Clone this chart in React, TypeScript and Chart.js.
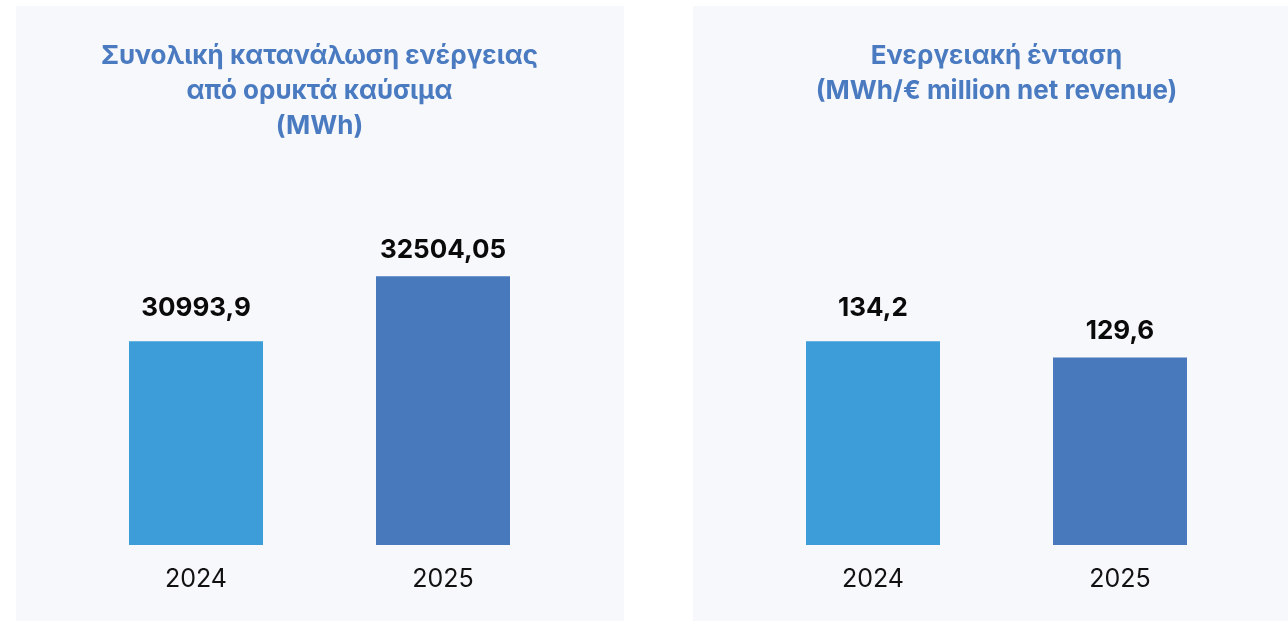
import React, { useEffect, useRef } from "react";
import { Chart, registerables } from "chart.js";

Chart.register(...registerables);

const categories = ["2024", "2025"];
const fossilValues = [30993.9, 32504.05];
const intensityValues = [134.2, 129.6];
const fossilTitle = ["Συνολική κατανάλωση ενέργειας", "από ορυκτά καύσιμα", "(MWh)"];
const intensityTitle = ["Ενεργειακή ένταση", "(MWh/€ million net revenue)"];
const barColors = ["#3d9dd8", "#4779bc"];
const labelOffsets = [25, 18];

const fmt = (v: number) => String(v).replace(".", ",");

const valueLabelPlugin = {
  id: "valueLabels",
  afterDatasetsDraw(chart: any) {
    const ctx = chart.ctx;
    ctx.save();
    ctx.font = "bold 26px Inter";
    ctx.fillStyle = "#0a0a0a";
    ctx.textAlign = "center";
    ctx.textBaseline = "alphabetic";
    chart.data.datasets.forEach((ds: any, di: number) => {
      const meta = chart.getDatasetMeta(di);
      meta.data.forEach((bar: any, i: number) => {
        ctx.fillText(fmt(ds.data[i]), bar.x, bar.y - labelOffsets[i]);
      });
    });
    ctx.restore();
  },
};

function BarPanel(props: {
  title: string[];
  titleFont: string;
  titleSize: number;
  values: number[];
  min: number;
  max: number;
  left: number;
}) {
  const ref = useRef<HTMLCanvasElement>(null);
  useEffect(() => {
    if (!ref.current) return;
    const lines = props.title.length;
    const chart = new Chart(ref.current, {
      type: "bar",
      data: {
        labels: categories,
        datasets: [
          {
            data: props.values,
            backgroundColor: barColors,
            borderWidth: 0,
            barPercentage: 0.5425,
            categoryPercentage: 1,
          },
        ],
      },
      options: {
        animation: false,
        responsive: true,
        maintainAspectRatio: false,
        layout: { padding: { left: 56.5, right: 57.5, top: 0, bottom: 7.1 } },
        plugins: {
          legend: { display: false },
          tooltip: { enabled: false },
          title: {
            display: true,
            text: props.title,
            color: "#4a7bc0",
            font: { family: props.titleFont, size: props.titleSize, weight: "bold", lineHeight: "35px" as any },
            padding: { top: 33, bottom: 200 - 33 - lines * 35 },
          },
        },
        scales: {
          x: {
            grid: { display: false, drawTicks: false },
            border: { display: false },
            ticks: {
              color: "#111111",
              font: { family: "Inter", size: 25, weight: "normal" },
              padding: 19.5,
            },
          },
          y: {
            display: false,
            min: props.min,
            max: props.max,
          },
        },
      },
      plugins: [valueLabelPlugin],
    });
    return () => chart.destroy();
  }, []);
  return (
    <div
      style={{
        position: "absolute",
        left: props.left,
        top: 6,
        width: 608,
        height: 615,
        background: "#f7f8fc",
      }}
    >
      <canvas ref={ref} style={{ display: "block" }} />
    </div>
  );
}

export default function App() {
  return (
    <div
      style={{
        position: "fixed",
        left: 0,
        top: 0,
        width: 1288,
        height: 621,
        overflow: "hidden",
        background: "#ffffff",
      }}
    >
      <BarPanel title={fossilTitle} titleFont="Inter" titleSize={26} values={fossilValues} min={26277.6} max={34130} left={16} />
      <BarPanel title={intensityTitle} titleFont="Inter" titleSize={26} values={intensityValues} min={75.84} max={173.0} left={693} />
    </div>
  );
}
